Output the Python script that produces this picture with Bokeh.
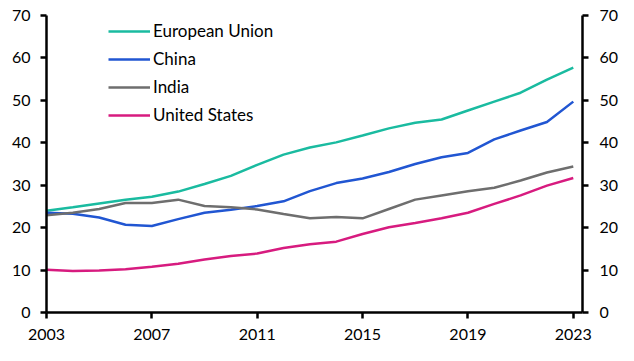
from bokeh.plotting import figure
from bokeh.models import Range1d, LinearAxis, FixedTicker, Legend, LegendItem
from bokeh.embed import file_html
from bokeh.resources import INLINE

years = list(range(2003, 2024))
eu = [24.0, 24.8, 25.7, 26.6, 27.3, 28.5, 30.3, 32.2, 34.8, 37.2, 38.9, 40.1,
      41.7, 43.4, 44.7, 45.5, 47.6, 49.7, 51.8, 54.9, 57.7]
china = [23.5, 23.3, 22.4, 20.7, 20.4, 22.0, 23.5, 24.2, 25.1, 26.2, 28.6, 30.5,
         31.6, 33.1, 35.0, 36.6, 37.6, 40.8, 42.9, 44.9, 49.7]
india = [22.9, 23.5, 24.4, 25.8, 25.8, 26.6, 25.1, 24.8, 24.3, 23.2, 22.2, 22.5,
         22.2, 24.4, 26.6, 27.6, 28.6, 29.4, 31.1, 33.0, 34.4]
us = [10.1, 9.8, 9.9, 10.2, 10.8, 11.5, 12.5, 13.3, 13.9, 15.2, 16.1, 16.7,
      18.5, 20.1, 21.1, 22.2, 23.5, 25.6, 27.6, 29.9, 31.7]

names = ["European Union", "China", "India", "United States"]
series = [eu, china, india, us]
colors = ["#1ABBA0", "#2156D2", "#6E6E6E", "#D71B7F"]

x_ticks = [2003, 2007, 2011, 2015, 2019, 2023]
y_ticks = [0, 10, 20, 30, 40, 50, 60, 70]

FONT = "Lato"
FS = "16px"

p = figure(width=632, height=359, output_backend="svg", toolbar_location=None,
           x_range=Range1d(2003, 2023.35), y_range=Range1d(0, 70),
           min_border_left=46, min_border_right=50, min_border_top=15,
           min_border_bottom=47)
p.outline_line_color = None
p.xgrid.visible = False
p.ygrid.visible = False
p.background_fill_color = "white"

items = []
for name, vals, col in zip(names, series, colors):
    r = p.line(years, vals, line_color=col, line_width=2.5)
    items.append(LegendItem(label=name, renderers=[r]))

def style(ax):
    ax.axis_line_width = 2.5
    ax.axis_line_color = "black"
    ax.major_tick_line_width = 2.5
    ax.major_tick_line_color = "black"
    ax.major_tick_out = 6
    ax.major_tick_in = 0
    ax.minor_tick_line_color = None
    ax.major_label_text_font = FONT
    ax.major_label_text_font_size = FS
    ax.major_label_text_color = "black"

xa = p.xaxis[0]
xa.ticker = FixedTicker(ticks=x_ticks)
style(xa)
xa.major_label_standoff = 10

ya = p.yaxis[0]
ya.ticker = FixedTicker(ticks=y_ticks)
style(ya)
ya.major_label_standoff = 10

ra = LinearAxis(ticker=FixedTicker(ticks=y_ticks))
style(ra)
ra.major_label_standoff = 11
p.add_layout(ra, "right")

legend = Legend(items=items, location=(62, 187), orientation="vertical",
                background_fill_alpha=0, border_line_color=None,
                label_text_font=FONT, label_text_font_size="17px",
                label_text_color="black", glyph_width=42, glyph_height=20,
                spacing=7, label_standoff=3, padding=0, margin=0,
                label_height=20)
p.add_layout(legend, "center")

open("out.html", "w").write(file_html(p, INLINE))
